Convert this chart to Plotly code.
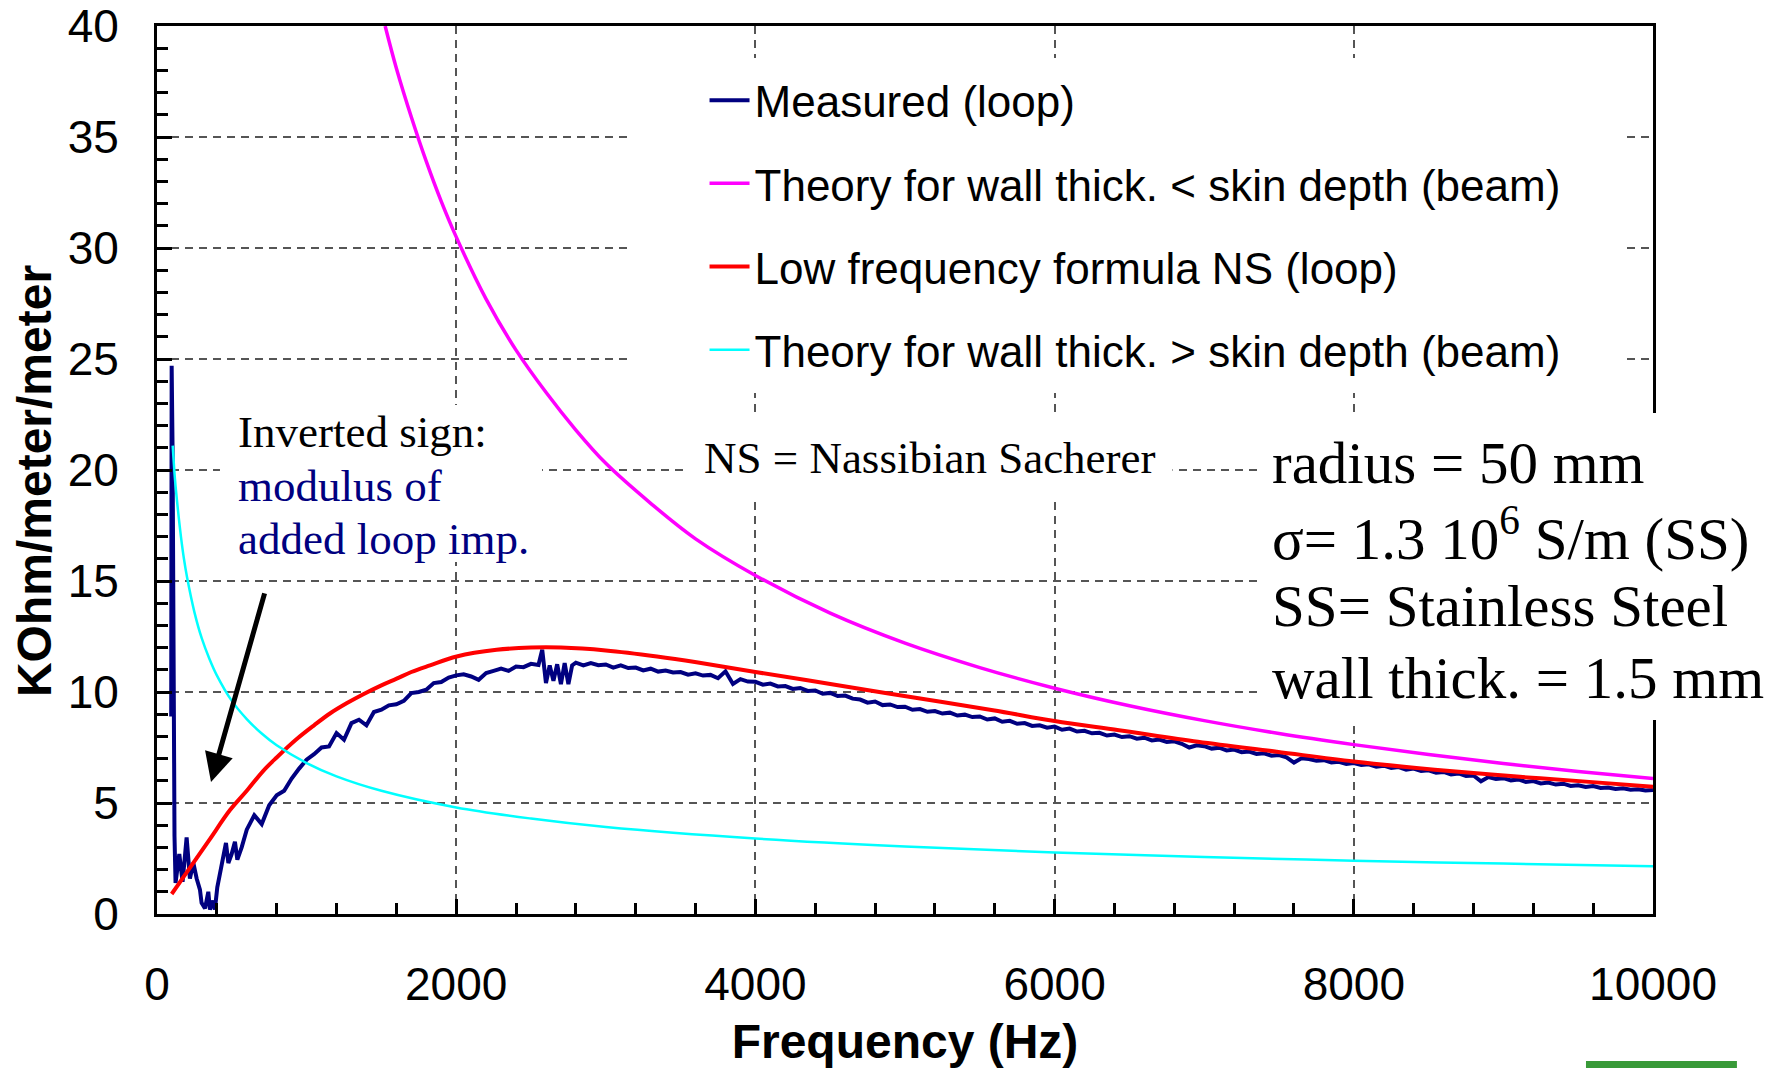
import plotly.graph_objects as go

# ---- Measured loop impedance: frequency (Hz) and value (kOhm/meter/meter) ----
meas_freq = [
    95, 98, 104, 110, 117, 124, 149, 171, 198, 220, 243, 265, 287, 298, 321, 343,
    354, 376, 387, 403, 421, 443, 461, 477, 499, 521, 537, 566,
    600, 650, 700, 750, 800, 850, 900, 950, 1000, 1050, 1100, 1150, 1200, 1250,
    1300, 1350, 1400, 1450, 1500, 1550, 1600, 1650, 1700, 1750, 1800, 1850, 1900,
    1950, 2000, 2050, 2100, 2150, 2200, 2250, 2300, 2350, 2400, 2450, 2500, 2550,
    2575, 2600, 2625, 2650, 2675, 2700, 2725, 2750, 2775,
    2800, 2850, 2900, 2950, 3000, 3050, 3100, 3150, 3200, 3250, 3300, 3350, 3400,
    3450, 3500, 3550, 3600, 3650, 3700, 3750, 3800, 3850, 3900, 3950, 4000, 4050,
    4100, 4150, 4200, 4250, 4300, 4350, 4400, 4450, 4500, 4550, 4600, 4650, 4700,
    4750, 4800, 4850, 4900, 4950, 5000, 5050, 5100, 5150, 5200, 5250, 5300, 5350,
    5400, 5450, 5500, 5550, 5600, 5650, 5700, 5750, 5800, 5850, 5900, 5950, 6000,
    6050, 6100, 6150, 6200, 6250, 6300, 6350, 6400, 6450, 6500, 6550, 6600, 6650,
    6700, 6750, 6800, 6850, 6900, 6950, 7000, 7050, 7100, 7150, 7200, 7250, 7300,
    7350, 7400, 7450, 7500, 7550, 7600, 7650, 7700, 7750, 7800, 7850, 7900, 7950,
    8000, 8050, 8100, 8150, 8200, 8250, 8300, 8350, 8400, 8450, 8500, 8550, 8600,
    8650, 8700, 8750, 8800, 8850, 8900, 8950, 9000, 9050, 9100, 9150, 9200, 9250,
    9300, 9350, 9400, 9450, 9500, 9550, 9600, 9650, 9700, 9750, 9800, 9850, 9900,
    9950, 10000,
]
meas_val = [
    8.9, 24.7, 21.0, 9.5, 3.5, 1.4, 2.7, 1.45, 3.45, 1.6, 2.3, 1.6, 1.1, 0.5, 0.25, 1.0,
    0.2, 0.6, 0.2, 1.2, 1.8, 2.6, 3.2, 2.3, 2.7, 3.25, 2.45, 3.0,
    3.8, 4.45, 4.05, 4.9, 5.35, 5.55, 6.1, 6.55, 6.95, 7.2, 7.5, 7.55, 8.15, 7.85,
    8.6, 8.75, 8.5, 9.1, 9.2, 9.4, 9.45, 9.6, 9.95, 10.0, 10.1, 10.4, 10.45,
    10.65, 10.75, 10.8, 10.7, 10.55, 10.85, 10.95, 11.05, 10.95, 11.15, 11.12, 11.27, 11.22,
    11.9, 10.4, 11.2, 10.5, 11.25, 10.35, 11.3, 10.35, 11.2,
    11.32, 11.2, 11.3, 11.21, 11.24, 11.1, 11.2, 11.08, 11.1, 10.97, 11.05, 10.92, 10.97,
    10.88, 10.9, 10.78, 10.84, 10.74, 10.77, 10.62, 10.93, 10.36, 10.58, 10.47, 10.46, 10.33,
    10.38, 10.25, 10.27, 10.14, 10.18, 10.05, 10.07, 9.92, 9.96, 9.82, 9.84, 9.7, 9.66,
    9.52, 9.57, 9.41, 9.44, 9.32, 9.34, 9.2, 9.23, 9.11, 9.14, 9.03, 9.07, 8.94,
    8.98, 8.87, 8.9, 8.76, 8.81, 8.66, 8.7, 8.57, 8.6, 8.47, 8.5, 8.39, 8.44,
    8.3, 8.35, 8.22, 8.25, 8.14, 8.16, 8.04, 8.08, 7.97, 8.01, 7.9, 7.94, 7.82,
    7.86, 7.75, 7.78, 7.67, 7.5, 7.6, 7.56, 7.45, 7.49, 7.37, 7.41, 7.29, 7.32,
    7.21, 7.24, 7.13, 7.16, 7.06, 6.82, 7.01, 6.98, 6.9, 6.93, 6.83, 6.86, 6.76,
    6.8, 6.71, 6.74, 6.63, 6.68, 6.58, 6.62, 6.5, 6.55, 6.44, 6.47, 6.36, 6.4,
    6.29, 6.33, 6.22, 6.24, 5.98, 6.17, 6.08, 6.12, 6.02, 6.06, 5.95, 5.99, 5.88,
    5.92, 5.83, 5.87, 5.77, 5.8, 5.72, 5.76, 5.68, 5.7, 5.63, 5.66, 5.6, 5.62,
    5.56, 5.58,
]

# ---- Theory for wall thickness < skin depth (beam) ----
thin_freq = [1525, 1600, 1700, 1800, 1900, 2000, 2200, 2400, 2600, 2800, 3000, 3300,
             3600, 4000, 4500, 5000, 5500, 6000, 6500, 7000, 7500, 8000, 8500, 9000,
             9500, 10000]
thin_val = [40.0, 38.1, 35.9, 33.9, 32.1, 30.5, 27.7, 25.4, 23.5, 21.8, 20.3, 18.5,
            16.9, 15.25, 13.55, 12.2, 11.1, 10.17, 9.38, 8.71, 8.13, 7.63, 7.18, 6.78,
            6.42, 6.1]

# ---- Low frequency formula NS (loop) ----
ns_freq = [98, 150, 200, 265, 350, 488, 600, 709, 800, 934, 1050, 1156, 1270, 1379,
           1500, 1602, 1700, 1825, 2003, 2270, 2500, 2700, 3000, 3342, 3606, 4000,
           4531, 5059, 5588, 6000, 6430, 6958, 7485, 8000, 8541, 9069, 9596, 10000]
ns_val = [0.9, 1.4, 1.89, 2.52, 3.34, 4.68, 5.55, 6.44, 7.05, 7.88, 8.5, 9.03, 9.5,
          9.9, 10.3, 10.6, 10.9, 11.2, 11.6, 11.9, 12.0, 12.0, 11.87, 11.6, 11.34,
          10.9, 10.33, 9.75, 9.18, 8.69, 8.28, 7.76, 7.31, 6.87, 6.5, 6.2, 5.94, 5.73]

# ---- Theory for wall thickness > skin depth (beam) ----
thick_freq = [105, 120, 140, 160, 180, 200, 250, 300, 350, 400, 500, 600, 700, 800,
              1000, 1200, 1500, 2000, 2500, 3000, 4000, 5000, 6000, 7000, 8000, 9000,
              10000]
thick_val = [21.1, 19.6, 18.2, 17.0, 16.0, 15.2, 13.6, 12.4, 11.5, 10.75, 9.6, 8.78,
             8.13, 7.6, 6.8, 6.2, 5.55, 4.8, 4.3, 3.92, 3.4, 3.04, 2.77, 2.57, 2.4,
             2.27, 2.15]

# ---- Text blocks ----
note_lines = ["Inverted sign:", "modulus of", "added loop imp."]
note_colors = ["black", "#000080", "#000080"]
param_lines = ["radius = 50 mm", "σ= 1.3 10<sup>6</sup> S/m (SS)",
               "SS= Stainless Steel", "wall thick. = 1.5 mm"]

SANS = "Liberation Sans, Arial, sans-serif"
SERIF = "Liberation Serif, Times New Roman, serif"

fig = go.Figure()
fig.add_trace(go.Scatter(x=meas_freq, y=meas_val, mode="lines", name="Measured (loop)",
                         legendgroup="g1", line=dict(color="#000080", width=4)))
fig.add_trace(go.Scatter(x=thin_freq, y=thin_val, mode="lines",
                         name="Theory for wall thick. < skin depth (beam)", legendgroup="g2",
                         line=dict(color="#FF00FF", width=3.5, shape="spline")))
fig.add_trace(go.Scatter(x=ns_freq, y=ns_val, mode="lines",
                         name="Low frequency formula NS (loop)", legendgroup="g3",
                         line=dict(color="#FF0000", width=4, shape="spline")))
fig.add_trace(go.Scatter(x=thick_freq, y=thick_val, mode="lines",
                         name="Theory for wall thick. > skin depth (beam)", legendgroup="g4",
                         line=dict(color="#00FFFF", width=2.5, shape="spline")))

axis_common = dict(
    ticks="inside", ticklen=15, tickwidth=2.5, tickcolor="black",
    showline=True, linewidth=3, linecolor="black", mirror=True,
    showgrid=True, gridcolor="#555555", gridwidth=1.5, griddash="8px,6px",
    zeroline=False, automargin=False,
    tickfont=dict(family=SANS, size=46, color="black"),
)

# text annotations (paper coordinates)
annotations = []
note_y = [0.5428, 0.482, 0.4223]
for txt, col, yy in zip(note_lines, note_colors, note_y):
    annotations.append(dict(text=txt, xref="paper", yref="paper", x=0.0535, y=yy,
                            xanchor="left", yanchor="middle", showarrow=False, borderpad=0,
                            font=dict(family=SERIF, size=45, color=col)))
param_y = [0.5079, 0.4279, 0.3468, 0.2658]
for txt, yy in zip(param_lines, param_y):
    annotations.append(dict(text=txt, xref="paper", yref="paper", x=0.7447, y=yy,
                            xanchor="left", yanchor="middle", showarrow=False, borderpad=0,
                            font=dict(family=SERIF, size=59, color="black")))
annotations.append(dict(text="NS = Nassibian Sacherer", xref="paper", yref="paper",
                        x=0.5167, y=0.5135, xanchor="center", yanchor="middle",
                        showarrow=False, bgcolor="white", borderpad=16,
                        font=dict(family=SERIF, size=45, color="black")))
annotations.append(dict(text="", x=361, y=5.95, xref="x", yref="y", ax=54, ay=-190,
                        showarrow=True, arrowhead=2, arrowsize=1.15, arrowwidth=5,
                        arrowcolor="black", standoff=0))
# y-axis title, set slightly below the middle of the axis
annotations.append(dict(text="<b>KOhm/meter/meter</b>", xref="paper", yref="paper",
                        x=-0.0822, y=0.4876, xanchor="center", yanchor="middle",
                        textangle=-90, showarrow=False,
                        font=dict(family=SANS, size=48, color="black")))

white_box = dict(type="rect", xref="paper", yref="paper", fillcolor="white",
                 line=dict(width=0), layer="above")

fig.update_layout(
    width=1792, height=1068,
    margin=dict(l=157, r=139, t=26, b=154),
    paper_bgcolor="white", plot_bgcolor="white",
    xaxis=dict(
        range=[0, 10000], tick0=0, dtick=2000, tickformat="d",
        minor=dict(dtick=400, ticks="inside", ticklen=11, tickwidth=2.5,
                   tickcolor="black", showgrid=False),
        ticklabelstandoff=28,
        title=dict(text="<b>Frequency (Hz)</b>", standoff=18,
                   font=dict(family=SANS, size=48, color="black")),
        **axis_common,
    ),
    yaxis=dict(
        range=[0, 40], tick0=0, dtick=5,
        minor=dict(dtick=1, ticks="inside", ticklen=11, tickwidth=2.5,
                   tickcolor="black", showgrid=False),
        ticklabelstandoff=26,
        **axis_common,
    ),
    showlegend=True,
    legend=dict(
        x=0.366, y=0.956, xanchor="left", yanchor="top",
        bgcolor="rgba(0,0,0,0)", borderwidth=0,
        font=dict(family=SANS, size=44, color="black"),
        tracegroupgap=23, itemwidth=40,
    ),
    shapes=[
        # legend panel
        dict(white_box, x0=0.3148, x1=0.9826, y0=0.5867, y1=0.964),
        # panel behind the "Inverted sign" note
        dict(white_box, x0=0.0421, x1=0.2574, y0=0.3964, y1=0.5732),
        # panel behind the parameter block
        dict(white_box, x0=0.7393, x1=1.0909, y0=0.2185, y1=0.5642),
        # green bar in the lower right corner of the page
        dict(type="rect", xref="paper", yref="paper", x0=0.9552, x1=1.0561,
             y0=-0.1734, y1=-0.1655, fillcolor="#389a38", line=dict(width=0), layer="above"),
    ],
    annotations=annotations,
)

fig.write_html("out.html")
